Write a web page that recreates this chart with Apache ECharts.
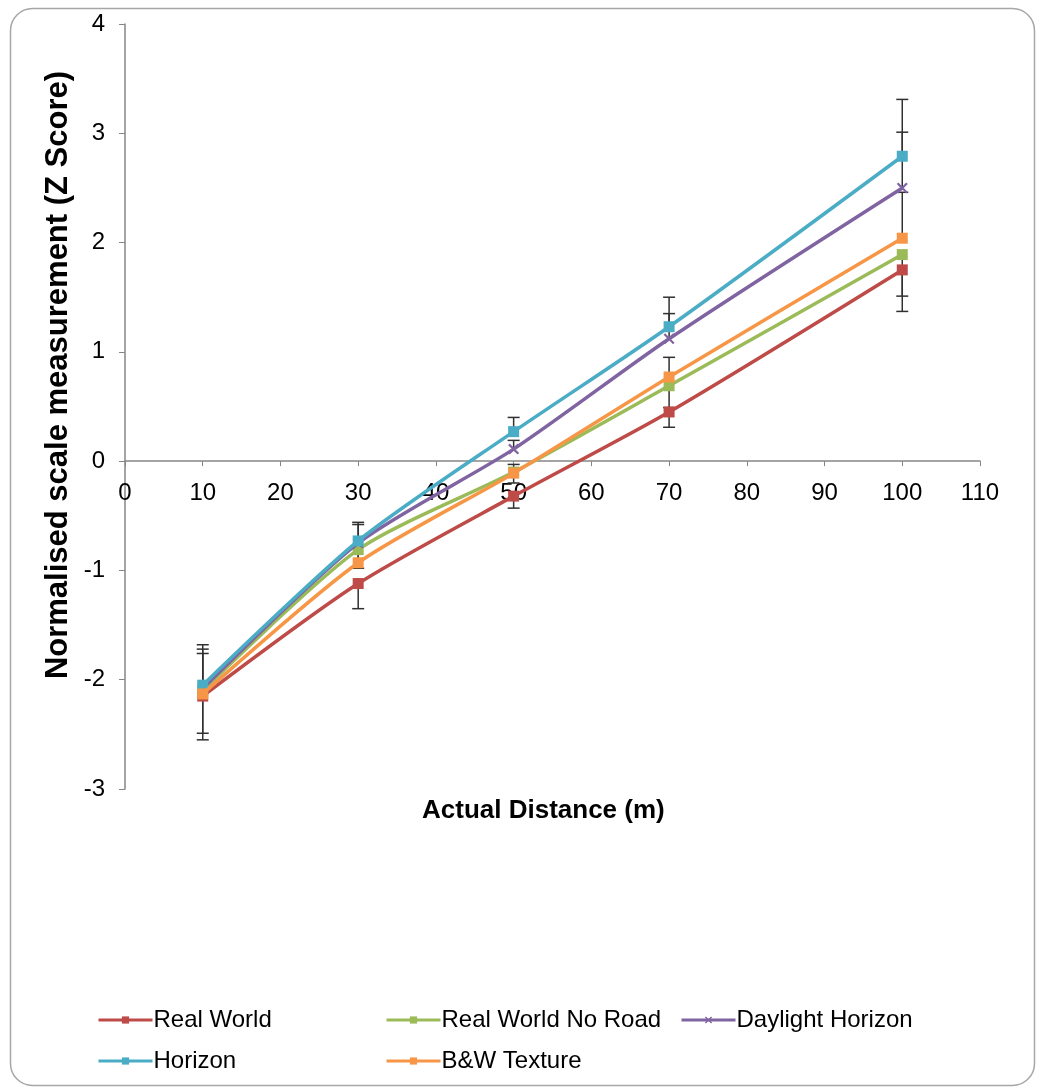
<!DOCTYPE html>
<html>
<head>
<meta charset="utf-8">
<script src="https://cdn.jsdelivr.net/npm/echarts@6/dist/echarts.min.js"></script>
<style>
html,body{margin:0;padding:0;background:#fff;}
#chart{width:1040px;height:1091px;}
</style>
</head>
<body>
<div id="chart"></div>
<script>
// ---- data ----
const distances = [10, 30, 50, 70, 100];
const seriesNames = ['Real World', 'Real World No Road', 'Daylight Horizon', 'Horizon', 'B&W Texture'];
const realWorld        = [-2.15, -1.12, -0.32, 0.45, 1.75];
const realWorldNoRoad  = [-2.10, -0.81, -0.10, 0.69, 1.89];
const daylightHorizon  = [-2.08, -0.75, 0.11, 1.12, 2.50];
const horizon          = [-2.05, -0.73, 0.27, 1.23, 2.79];
const bwTexture        = [-2.13, -0.93, -0.11, 0.77, 2.04];
// error bar lengths (upward / downward), 0 = none
const realWorldErrDown       = [0.40, 0.23, 0.11, 0.14, 0.38];
const realWorldNoRoadErrDown = [0.39, 0.17, 0.10, 0.20, 0.38];
const daylightHorizonErrUp   = [0.36, 0.17, 0.08, 0.23, 0.51];
const horizonErrUp           = [0.37, 0.17, 0.13, 0.27, 0.52];
const bwTextureErrUp         = [0.37, 0.15, 0.08, 0.18, 0.42];
const xTicks = {min: 0, max: 110, interval: 10};
const yTicks = {min: -3, max: 4, interval: 1};
const xTitle = 'Actual Distance (m)';
const yTitle = 'Normalised scale measurement (Z Score)';

// ---- styling ----
const colors = ['#BE4B48', '#9BBB59', '#8064A2', '#4BACC6', '#F79646'];
const FONT = '"Liberation Sans", Arial, sans-serif';
const xMarker = 'path://M0,1.4L1.4,0L5,3.6L8.6,0L10,1.4L6.4,5L10,8.6L8.6,10L5,6.4L1.4,10L0,8.6L3.6,5Z';

const values = [realWorld, realWorldNoRoad, daylightHorizon, horizon, bwTexture];
const errUp = [null, null, daylightHorizonErrUp, horizonErrUp, bwTextureErrUp];
const errDown = [realWorldErrDown, realWorldNoRoadErrDown, null, null, null];

const errData = [];
values.forEach((vals, s) => {
  vals.forEach((v, i) => {
    if (errUp[s] && errUp[s][i] > 0) errData.push([distances[i], v, v + errUp[s][i]]);
    if (errDown[s] && errDown[s][i] > 0) errData.push([distances[i], v, v - errDown[s][i]]);
  });
});

const lineSeries = values.map((vals, s) => ({
  name: seriesNames[s],
  type: 'line',
  smooth: 0.25,
  data: vals.map((v, i) => [distances[i], v]),
  symbol: s === 2 ? xMarker : 'rect',
  symbolSize: 11,
  showSymbol: true,
  lineStyle: {color: colors[s], width: 3.5},
  itemStyle: {color: colors[s]},
  z: 3 + s
}));

const errSeries = {
  type: 'custom',
  name: 'err',
  data: errData,
  z: 2,
  silent: true,
  renderItem: function (params, api) {
    const x = api.value(0);
    const p0 = api.coord([x, api.value(1)]);
    const p1 = api.coord([x, api.value(2)]);
    const hw = 6;
    const st = {stroke: '#303030', lineWidth: 1.5};
    return {
      type: 'group',
      children: [
        {type: 'line', shape: {x1: p0[0], y1: p0[1], x2: p1[0], y2: p1[1]}, style: st},
        {type: 'line', shape: {x1: p1[0] - hw, y1: p1[1], x2: p1[0] + hw, y2: p1[1]}, style: st}
      ]
    };
  }
};

const legendPos = [
  {left: 97, top: 1008},
  {left: 385, top: 1008},
  {left: 680, top: 1008},
  {left: 97, top: 1049},
  {left: 385, top: 1049}
];
const legends = seriesNames.map((n, i) => ({
  data: [n],
  left: legendPos[i].left,
  top: legendPos[i].top,
  itemWidth: 54,
  itemHeight: 9,
  itemGap: 0,
  padding: 0,
  selectedMode: false,
  lineStyle: {width: 3},
  textStyle: {fontFamily: FONT, fontSize: 24, color: '#000', padding: [0, 0, 0, -4]}
}));

const chart = echarts.init(document.getElementById('chart'), null, {renderer: 'canvas'});
chart.setOption({
  animation: false,
  backgroundColor: '#fff',
  color: colors,
  grid: [
    {left: 125, right: 60, top: 24, bottom: 302, containLabel: false},
    {left: 125, right: 60, top: 24, height: 438, containLabel: false}
  ],
  legend: legends,
  graphic: [
    {type: 'rect', left: 8, top: 6, shape: {width: 1024, height: 1077, r: 22}, style: {fill: 'none', stroke: '#a6a6a6', lineWidth: 1.5}, z: -1},
    {type: 'text', left: 422, top: 798, style: {text: xTitle, fontFamily: FONT, fontWeight: 'bold', fontSize: 26, fill: '#000'}},
    {type: 'text', x: 58, y: 375, rotation: Math.PI / 2,
     style: {text: yTitle, fontFamily: FONT, fontWeight: 'bold', fontSize: 31, fill: '#000', textAlign: 'center', textVerticalAlign: 'middle'}}
  ],
  xAxis: [{
    type: 'value', gridIndex: 0,
    min: xTicks.min, max: xTicks.max, interval: xTicks.interval,
    axisLine: {onZero: true, lineStyle: {color: '#868686', width: 1.5}},
    axisTick: {show: true, length: 5, lineStyle: {color: '#868686'}},
    axisLabel: {show: false},
    splitLine: {show: false}
  }, {
    type: 'value', gridIndex: 1, position: 'bottom',
    min: xTicks.min, max: xTicks.max, interval: xTicks.interval,
    axisLine: {show: false, onZero: false},
    axisTick: {show: false},
    axisLabel: {fontFamily: FONT, fontSize: 24, color: '#000', margin: 19},
    splitLine: {show: false}
  }],
  yAxis: [{
    type: 'value', gridIndex: 0,
    min: yTicks.min, max: yTicks.max, interval: yTicks.interval,
    axisLine: {show: true, onZero: false, lineStyle: {color: '#868686', width: 1.5}},
    axisTick: {show: true, length: 6, lineStyle: {color: '#868686'}},
    axisLabel: {fontFamily: FONT, fontSize: 24, color: '#000', margin: 20},
    splitLine: {show: false}
  }, {
    type: 'value', gridIndex: 1, show: false, min: 0, max: 1
  }],
  series: [errSeries].concat(lineSeries)
});
</script>
</body>
</html>
